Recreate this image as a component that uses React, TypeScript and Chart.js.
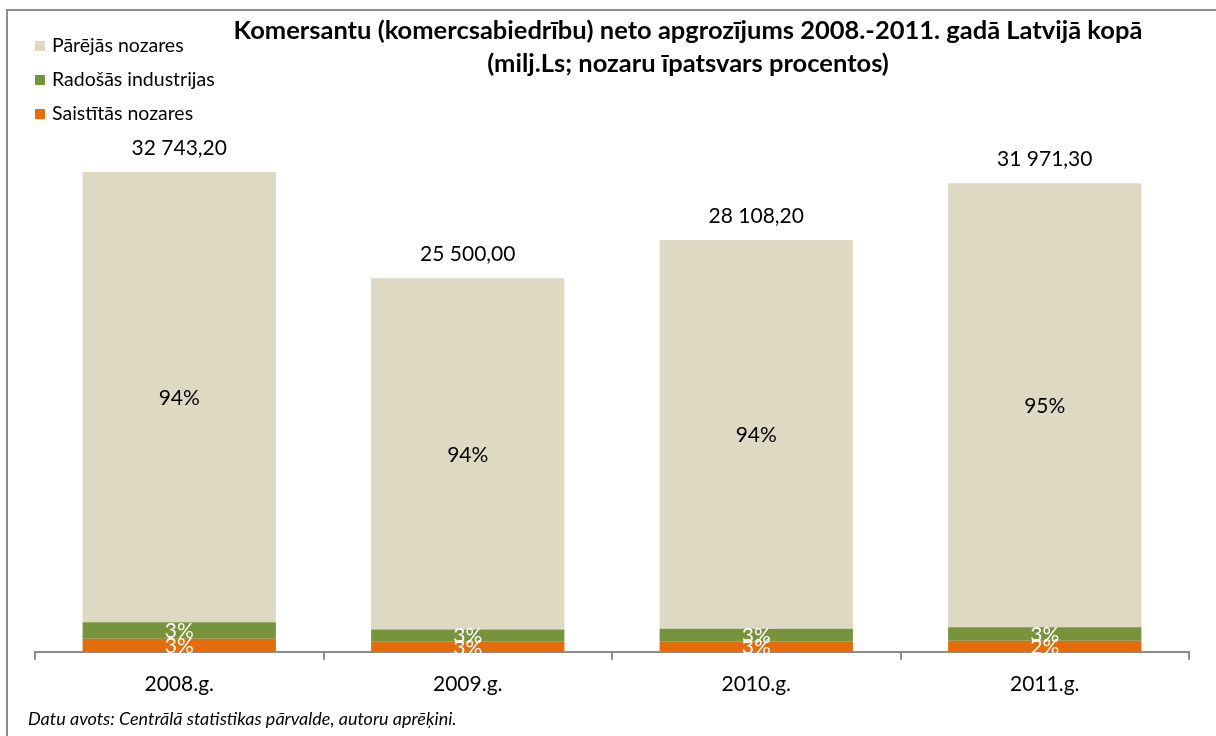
import React, { useEffect, useRef } from "react";
import { Chart, registerables } from "chart.js";

Chart.register(...registerables);

const categories = ["2008.g.", "2009.g.", "2010.g.", "2011.g."];
const saistitas = [885, 680, 715, 750];
const radosas = [1136, 837, 864, 930];
const parejas = [30722.2, 23983.0, 26529.2, 30291.3];
const totalLabels = ["32 743,20", "25 500,00", "28 108,20", "31 971,30"];
const saistitasPct = ["3%", "3%", "3%", "2%"];
const radosasPct = ["3%", "3%", "3%", "3%"];
const parejasPct = ["94%", "94%", "94%", "95%"];
const titleLines = [
  "Komersantu (komercsabiedrību) neto apgrozījums 2008.-2011. gadā Latvijā kopā",
  "(milj.Ls; nozaru īpatsvars procentos)",
];
const sourceNote = "Datu avots: Centrālā statistikas pārvalde, autoru aprēķini.";

const C_ORANGE = "#E46C0A";
const C_GREEN = "#77933C";
const C_BEIGE = "#DDD9C3";
const FONT = "Lato, 'Open Sans', sans-serif";

export default function App() {
  const ref = useRef<HTMLCanvasElement | null>(null);

  useEffect(() => {
    document.body.style.margin = "0";
    const canvas = ref.current!;
    const pctLabels = [saistitasPct, radosasPct, parejasPct];

    const decor = {
      id: "decor",
      beforeDraw(chart: any) {
        const ctx = chart.ctx;
        ctx.save();
        ctx.fillStyle = "#ffffff";
        ctx.fillRect(0, 0, chart.width, chart.height);
        ctx.strokeStyle = "#8c8c8c";
        ctx.lineWidth = 2;
        ctx.strokeRect(7, 10, chart.width + 20, chart.height + 20);
        ctx.restore();
      },
      afterDatasetsDraw(chart: any) {
        const ctx = chart.ctx;
        ctx.save();
        ctx.textAlign = "center";
        ctx.textBaseline = "middle";
        ctx.font = `21px ${FONT}`;
        chart.data.datasets.forEach((ds: any, di: number) => {
          const meta = chart.getDatasetMeta(di);
          meta.data.forEach((bar: any, i: number) => {
            const cy = (bar.y + bar.base) / 2;
            ctx.fillStyle = di === 2 ? "#000000" : "#ffffff";
            ctx.fillText(pctLabels[di][i], bar.x, cy + 1);
          });
        });
        const top = chart.getDatasetMeta(2);
        ctx.fillStyle = "#000000";
        ctx.font = `21px ${FONT}`;
        top.data.forEach((bar: any, i: number) => {
          ctx.fillText(totalLabels[i], bar.x, bar.y - 24);
        });
        ctx.restore();
      },
      afterDraw(chart: any) {
        const ctx = chart.ctx;
        ctx.save();
        // title
        ctx.fillStyle = "#000000";
        ctx.textAlign = "center";
        ctx.textBaseline = "middle";
        ctx.font = `bold 25.5px ${FONT}`;
        ctx.fillText(titleLines[0], 688, 31);
        ctx.fillText(titleLines[1], 688, 64);
        // legend
        const items = [
          { label: chart.data.datasets[2].label, color: C_BEIGE },
          { label: chart.data.datasets[1].label, color: C_GREEN },
          { label: chart.data.datasets[0].label, color: C_ORANGE },
        ];
        const ys = [46, 80, 114];
        ctx.textAlign = "left";
        ctx.font = `19.5px ${FONT}`;
        items.forEach((it, k) => {
          ctx.fillStyle = it.color;
          ctx.fillRect(35, ys[k] - 5, 10, 10);
          ctx.fillStyle = "#000000";
          ctx.fillText(it.label, 52, ys[k]);
        });
        // source note
        ctx.font = `italic 18px ${FONT}`;
        ctx.fillText(sourceNote, 28, 719);
        ctx.restore();
      },
    };

    const chart = new Chart(canvas, {
      type: "bar",
      data: {
        labels: categories,
        datasets: [
          { label: "Saistītās nozares", data: saistitas, backgroundColor: C_ORANGE },
          { label: "Radošās industrijas", data: radosas, backgroundColor: C_GREEN },
          { label: "Pārējās nozares", data: parejas, backgroundColor: C_BEIGE },
        ],
      },
      options: {
        responsive: false,
        animation: false,
        events: [],
        layout: { padding: { left: 35, right: 27, top: 139, bottom: 27 } },
        datasets: { bar: { categoryPercentage: 1, barPercentage: 0.67 } },
        plugins: {
          legend: { display: false },
          title: { display: false },
          tooltip: { enabled: false },
        },
        scales: {
          x: {
            stacked: true,
            offset: true,
            z: 1,
            grid: {
              display: true,
              offset: true,
              drawOnChartArea: false,
              drawTicks: true,
              tickLength: 8,
              color: "#8c8c8c",
              lineWidth: 2,
            },
            border: { display: true, color: "#8c8c8c", width: 2 },
            ticks: { color: "#000000", font: { family: FONT, size: 21 }, padding: 12 },
          },
          y: {
            stacked: true,
            display: false,
            min: 0,
            max: 35000,
          },
        },
      },
      plugins: [decor],
    });
    return () => chart.destroy();
  }, []);

  return (
    <div style={{ width: 1216, height: 736 }}>
      <canvas ref={ref} width={1216} height={736} style={{ display: "block" }} />
    </div>
  );
}
